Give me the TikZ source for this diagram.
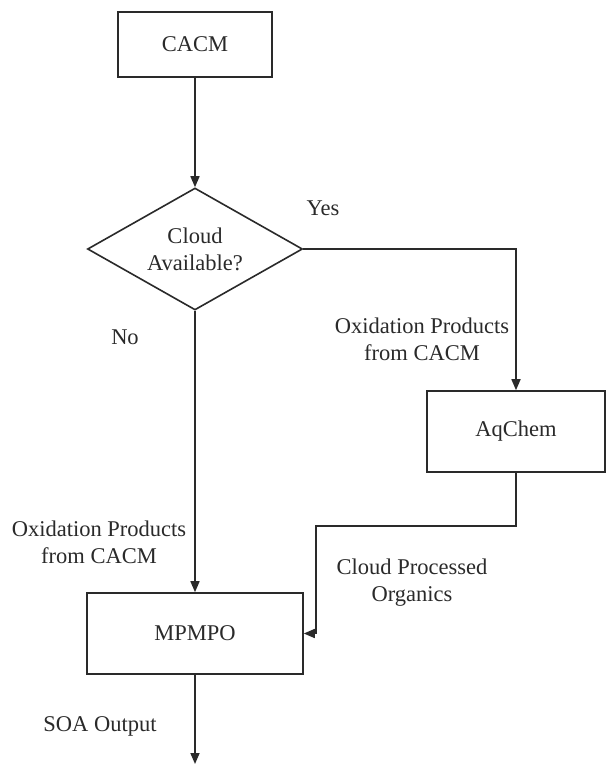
\documentclass[tikz,border=0pt]{standalone}
\usepackage{fontspec}
\setmainfont{Liberation Serif}
\usetikzlibrary{shapes.geometric,arrows.meta}
\definecolor{ink}{HTML}{2A2A2A}
\begin{document}
\begin{tikzpicture}[x=1pt,y=-1pt,
  every node/.style={font=\fontsize{22.5}{27}\selectfont, text=ink},
  box/.style={draw=ink, line width=1.6pt, rectangle, inner sep=0pt},
  lbl/.style={align=center, inner sep=0pt},
  conn/.style={draw=ink, line width=1.6pt},
  arr/.style={conn, -{Triangle[width=9pt,length=11pt]}}]
\fill[white] (0,0) rectangle (607,765);
\useasboundingbox (0,0) rectangle (607,765);
\node[box, minimum width=154pt, minimum height=65pt] (cacm) at (195,44.5) {CACM};
\node[diamond, draw=ink, line width=1.6pt, minimum width=215pt, minimum height=122pt, inner sep=0pt, align=center, aspect=1.76] (dia) at (195,249) {Cloud\\Available?};
\node[box, minimum width=178pt, minimum height=81pt] (aq) at (516,431.5) {AqChem};
\node[box, minimum width=216pt, minimum height=81pt] (mp) at (195,633.5) {MPMPO};
\coordinate (bend) at (316,526);
\coordinate (out) at (195,764);
\draw[arr] (cacm.south) -- (dia.north);
\draw[arr] (dia.east) -| (aq.north);
\draw[arr] (dia.south) -- (mp.north);
\draw[arr] (aq.south) |- (bend) |- (mp.east);
\draw[arr] (mp.south) -- (out);
\node[lbl] (yes) at (323,208) {Yes};
\node[lbl] (no) at (125,337) {No};
\node[lbl] (ox1) at (422,339.5) {Oxidation Products\\from CACM};
\node[lbl] (ox2) at (99,542.5) {Oxidation Products\\from CACM};
\node[lbl] (cpo) at (412,582.5) {Cloud Processed\\Organics};
\node[lbl] (soa) at (100,726) {SOA Output};
\end{tikzpicture}
\end{document}
